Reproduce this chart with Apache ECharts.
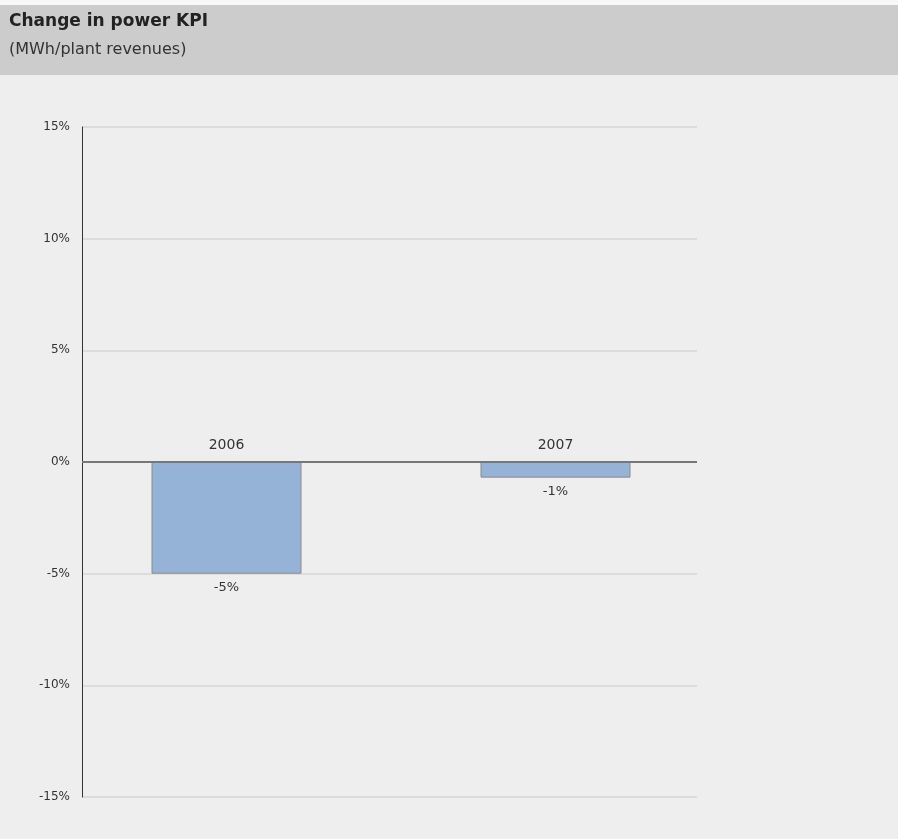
<!DOCTYPE html>
<html>
<head>
<meta charset="utf-8">
<script src="https://cdn.jsdelivr.net/npm/echarts@6/dist/echarts.min.js"></script>
<style>
html,body{margin:0;padding:0;background:#eeeeee;}
#chart{width:898px;height:839px;}
</style>
</head>
<body>
<div id="chart"></div>
<script>
// Year-over-year change in the power KPI (MWh per unit of plant revenues), in percent
const years = ['2006', '2007'];
const changePct = [-5.0, -0.7];
const yTicks = { min: -15, max: 15, interval: 5 };

const chart = echarts.init(document.getElementById('chart'));
const font = '"DejaVu Sans", Verdana, sans-serif';

chart.setOption({
  backgroundColor: '#eeeeee',
  animation: false,
  graphic: [
    { type: 'rect', shape: { x: 0, y: 0, width: 898, height: 5 }, style: { fill: '#f8f8f8' }, z: -1 },
    { type: 'rect', shape: { x: 0, y: 5, width: 898, height: 70 }, style: { fill: '#cccccc' }, z: -1 }
  ],
  title: {
    text: 'Change in power KPI',
    subtext: '(MWh/plant revenues)',
    left: 4,
    top: 8,
    itemGap: 12,
    textStyle: { fontFamily: font, fontSize: 17, fontWeight: 'bold', color: '#222' },
    subtextStyle: { fontFamily: font, fontSize: 16, color: '#333' }
  },
  grid: [
    { left: 82, right: 201, top: 127, bottom: 42 },
    { left: 62, right: 178, top: 127, bottom: 42 }
  ],
  xAxis: [
    {
      gridIndex: 0, type: 'value', min: 0, max: 1,
      axisLine: { show: false }, axisTick: { show: false },
      axisLabel: { show: false }, splitLine: { show: false }
    },
    {
      gridIndex: 1, type: 'category', data: years,
      axisLine: { show: false }, axisTick: { show: false },
      axisLabel: { show: false }
    }
  ],
  yAxis: [
    {
      gridIndex: 0, type: 'value', min: yTicks.min, max: yTicks.max, interval: yTicks.interval,
      axisLine: { show: true, lineStyle: { color: '#333', width: 1 } },
      axisTick: { show: false },
      axisLabel: { margin: 12, fontFamily: font, fontSize: 12, color: '#333', formatter: v => v + '%' },
      splitLine: { lineStyle: { color: '#dcdcdc', width: 2 } }
    },
    {
      gridIndex: 1, type: 'value', min: yTicks.min, max: yTicks.max, interval: yTicks.interval,
      axisLine: { show: false }, axisTick: { show: false },
      axisLabel: { show: false }, splitLine: { show: false }
    }
  ],
  series: [
    {
      // zero baseline across the plot area
      type: 'line',
      xAxisIndex: 0, yAxisIndex: 0,
      data: [[0, 0], [1, 0]],
      symbol: 'none',
      lineStyle: { color: '#777', width: 2 },
      z: 3,
      silent: true
    },
    {
      type: 'bar',
      xAxisIndex: 1, yAxisIndex: 1,
      data: changePct,
      barWidth: 150,
      itemStyle: { color: '#95b3d7', borderColor: '#8a8a8a', borderWidth: 1 },
      label: {
        show: true,
        position: 'bottom',
        distance: 7,
        fontFamily: font, fontSize: 13, color: '#333',
        formatter: p => Math.round(p.value) + '%'
      },
      // year names sit just above the zero line, centred on each bar
      markPoint: {
        symbol: 'circle',
        symbolSize: 0,
        silent: true,
        label: {
          show: true,
          position: 'top',
          distance: 10,
          fontFamily: font, fontSize: 14, color: '#333',
          formatter: p => p.name
        },
        data: years.map(y => ({ name: y, coord: [y, 0] }))
      },
      z: 2
    }
  ]
});
</script>
</body>
</html>
